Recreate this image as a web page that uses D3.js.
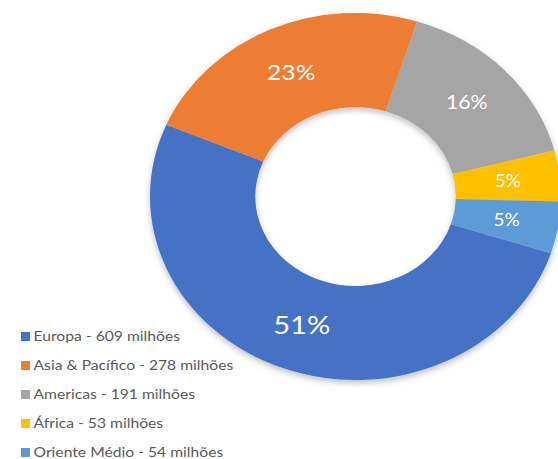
<!DOCTYPE html>
<html>
<head>
<meta charset="utf-8">
<script src="https://cdn.jsdelivr.net/npm/d3@7"></script>
<style>
  body { margin: 0; background: #fff; }
  svg { display: block; }
</style>
</head>
<body>
<div id="chart"></div>
<script>
// chart data
var regions = ["Europa", "Asia & Pacífico", "Americas", "África", "Oriente Médio"];
var visitors = [609, 278, 191, 53, 54];
var percentLabels = ["51%", "23%", "16%", "5%", "5%"];
var colors = ["#4472C4", "#ED7D31", "#A5A5A5", "#FFC000", "#5B9BD5"];

var svgWidth = 558;
var svgHeight = 459;

var svg = d3.select("#chart")
  .append("svg")
  .attr("width", svgWidth)
  .attr("height", svgHeight);

// donut geometry (picture is stretched a little horizontally)
var cx = 355.5;
var cy = 196.5;
var stretchX = 1.12;
var outerRadius = 183.5;
var innerRadius = 89.5;
var labelRadius = 137;

var pieData = regions.map((r, i) => ({ region: r, value: visitors[i], label: percentLabels[i] }));

var startDeg = 108;
var pie = d3.pie()
  .sort(null)
  .value(d => d.value)
  .startAngle(startDeg * Math.PI / 180)
  .endAngle((startDeg + 360) * Math.PI / 180);

var arc = d3.arc()
  .innerRadius(innerRadius)
  .outerRadius(outerRadius);

var labelArc = d3.arc()
  .innerRadius(labelRadius)
  .outerRadius(labelRadius);

var defs = svg.append("defs");
var shadow = defs.append("filter")
  .attr("id", "shadow")
  .attr("x", "-20%").attr("y", "-20%")
  .attr("width", "140%").attr("height", "140%");
shadow.append("feDropShadow")
  .attr("dx", 0).attr("dy", 3)
  .attr("stdDeviation", 3)
  .attr("flood-color", "#000")
  .attr("flood-opacity", 0.25);

var donutGroup = svg.append("g")
  .attr("transform", `translate(${cx}, ${cy}) scale(${stretchX}, 1)`)
  .attr("filter", "url(#shadow)");

var arcs = pie(pieData);

donutGroup.selectAll("path")
  .data(arcs)
  .enter()
  .append("path")
  .attr("d", arc)
  .attr("fill", (d, i) => colors[i]);

// percentage labels, sized like the reference (bigger slices get bigger text)
var labelSize = [26, 22, 19, 17, 17];

svg.append("g")
  .selectAll("text")
  .data(arcs)
  .enter()
  .append("text")
  .attr("transform", d => `translate(${cx + labelArc.centroid(d)[0] * stretchX}, ${cy + labelArc.centroid(d)[1]}) scale(${stretchX}, 1)`)
  .attr("dy", "0.35em")
  .attr("text-anchor", "middle")
  .attr("font-family", "Lato, 'Open Sans', sans-serif")
  .attr("font-size", (d, i) => labelSize[i] + "px")
  .attr("fill", "#fff")
  .text(d => d.data.label);

// legend
var legend = svg.append("g")
  .attr("transform", "translate(21, 336.5)");

var legendItems = legend.selectAll("g")
  .data(pieData)
  .enter()
  .append("g")
  .attr("transform", (d, i) => `translate(0, ${i * 29})`);

legendItems.append("rect")
  .attr("x", 0)
  .attr("y", -4.5)
  .attr("width", 9)
  .attr("height", 9)
  .attr("fill", (d, i) => colors[i]);

legendItems.append("text")
  .attr("transform", `translate(12.5, 0) scale(${stretchX}, 1)`)
  .attr("dy", "0.35em")
  .attr("font-family", "Lato, 'Open Sans', sans-serif")
  .attr("font-size", "14px")
  .attr("fill", "#595959")
  .text(d => `${d.region} - ${d.value} milhões`);
</script>
</body>
</html>
